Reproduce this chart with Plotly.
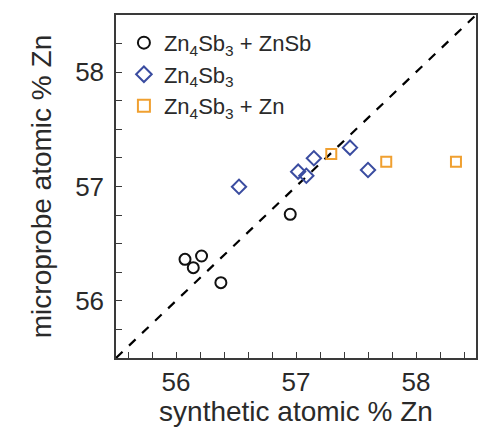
import plotly.graph_objects as go

# Data
circ_x = [56.075, 56.144, 56.213, 56.374, 56.952]
circ_y = [56.363, 56.290, 56.392, 56.159, 56.757]

diam_x = [56.525, 57.018, 57.086, 57.149, 57.450, 57.600]
diam_y = [56.998, 57.130, 57.094, 57.247, 57.340, 57.144]

sq_x = [57.294, 57.752, 58.333]
sq_y = [57.284, 57.217, 57.217]

diag = [55.5, 58.5]

names = ["Zn<sub>4</sub>Sb<sub>3</sub> + ZnSb",
         "Zn<sub>4</sub>Sb<sub>3</sub>",
         "Zn<sub>4</sub>Sb<sub>3</sub> + Zn"]

FONT = "Liberation Sans, Arial, sans-serif"
TXT = "#2a2a2a"
AX = "#3a3a3a"

fig = go.Figure()
fig.add_trace(go.Scatter(x=diag, y=diag, mode="lines", showlegend=False,
                         line=dict(color="black", width=2.2, dash="dash"),
                         hoverinfo="skip"))
fig.add_trace(go.Scatter(x=circ_x, y=circ_y, mode="markers", name=names[0],
                         marker=dict(symbol="circle-open", size=11, color="#111111",
                                     line=dict(width=2, color="#111111"))))
fig.add_trace(go.Scatter(x=diam_x, y=diam_y, mode="markers", name=names[1],
                         marker=dict(symbol="diamond-open", size=11, color="#3a4ca0",
                                     line=dict(width=2, color="#3a4ca0"))))
fig.add_trace(go.Scatter(x=sq_x, y=sq_y, mode="markers", name=names[2],
                         marker=dict(symbol="square-open", size=10, color="#f0a030",
                                     line=dict(width=2, color="#f0a030"))))

axis_common = dict(
    showline=True, linecolor=AX, linewidth=1.5, mirror=True,
    showgrid=False, zeroline=False,
    ticks="inside", ticklen=6, tickwidth=1.2, tickcolor=AX,
    tickfont=dict(size=26, color=TXT, family=FONT),
    tick0=56, dtick=1,
)

fig.update_xaxes(range=[55.5, 58.5], **axis_common,
                 minor=dict(dtick=0.2, tick0=56, ticks="inside", ticklen=6,
                            tickwidth=1.2, tickcolor=AX),
                 title=dict(text="synthetic atomic % Zn",
                            font=dict(size=28, color=TXT, family=FONT), standoff=2))
fig.update_yaxes(range=[55.5, 58.5], **axis_common,
                 ticklabelstandoff=5,
                 minor=dict(dtick=0.25, tick0=56, ticks="inside", ticklen=6,
                            tickwidth=1.2, tickcolor=AX),
                 title=dict(text="microprobe atomic % Zn",
                            font=dict(size=28, color=TXT, family=FONT), standoff=15))

fig.update_layout(
    width=482, height=427,
    margin=dict(l=116, r=4, t=15, b=69),
    paper_bgcolor="white", plot_bgcolor="white",
    font=dict(family=FONT, color=TXT),
    legend=dict(x=0.022, y=0.98, xanchor="left", yanchor="top",
                bgcolor="rgba(0,0,0,0)", font=dict(size=22, color=TXT, family=FONT),
                itemsizing="constant", tracegroupgap=0),
)

fig.write_html("out.html")
